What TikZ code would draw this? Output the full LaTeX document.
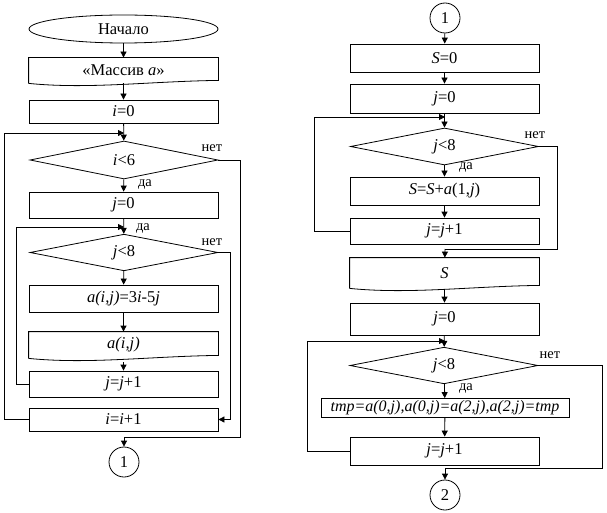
\documentclass[tikz,border=0pt]{standalone}
\usepackage{fontspec}
\setmainfont{Liberation Serif}
\usetikzlibrary{shapes.geometric,arrows.meta,calc}
\begin{document}
\begin{tikzpicture}[x=1pt,y=-1pt,line width=0.8pt,
  base/.style={font=\fontsize{16.5}{18}\selectfont, inner sep=0pt},
  proc/.style={base, draw, rectangle, minimum width=189pt},
  dec/.style={base, draw, diamond, minimum width=188pt},
  docnode/.style={base, minimum width=189pt},
  term/.style={base, draw, ellipse, minimum width=189pt, minimum height=28pt},
  conn/.style={base, draw, circle, minimum size=30pt},
  arr/.style={-{Triangle[length=6pt,width=6pt]}},
  lab/.style={font=\fontsize{14.5}{16}\selectfont, inner sep=0pt}]
\useasboundingbox (0,0) rectangle (607,513);
\newcommand\mydoc[1]{\draw ($(#1.south west)$) -- (#1.north west) -- (#1.north east) -- ($(#1.south east)+(0,-3)$)
  .. controls ($(#1.south east)+(-70,-2)$) and ($(#1.south west)+(60,6)$) .. (#1.south west);}
% ---------- left column ----------
\node[term] (start) at (123.5,29) {Начало};
\node[docnode, minimum height=25pt] (inA) at (123.5,70.5) {«Массив \textit{a}»};
\mydoc{inA}
\node[proc, minimum height=23pt] (i0) at (123.5,111.5) {\textit{i}=0};
\node[dec, minimum height=38pt] (d1) at (124,160) {\textit{i}<6};
\node[proc, minimum height=26pt] (j0) at (123.5,205) {\textit{j}=0};
\node[dec, minimum height=35pt] (d2) at (124,252.5) {\textit{j}<8};
\node[proc, minimum height=27pt] (calc) at (123.5,298.5) {\textit{a(i,j)}=3\textit{i}-5\textit{j}};
\node[docnode, minimum height=26pt] (out) at (123.5,345) {\textit{a(i,j)}};
\mydoc{out}
\node[proc, minimum height=26pt] (jinc) at (123.5,384) {\textit{j}=\textit{j}+1};
\node[proc, minimum height=23pt] (iinc) at (123.5,419.5) {\textit{i}=\textit{i}+1};
\node[conn] (c1) at (124,462) {1};
\coordinate (lp1) at (124,133);
\coordinate (lp2) at (124,227);
\node[lab] (n1) at (212,148) {нет};
\node[lab] (y1) at (145,184) {да};
\node[lab] (y2) at (143,228) {да};
\node[lab] (n2) at (212,242) {нет};
\draw[arr] (start) -- (inA);
\draw[arr] (inA.south) -- (i0);
\draw[arr] (i0) -- (d1);
\draw[arr] (d1) -- (j0);
\draw[arr] (j0) -- (d2);
\draw[arr] (d2) -- (calc);
\draw[arr] (calc) -- (out);
\draw[arr] ($(out.south)+(0,4)$) -- (jinc);
\draw[arr] (jinc.west) -- ++(-12,0) |- (lp2);
\draw[arr] (iinc.west) -- ++(-24,0) |- (lp1);
\draw[arr] (d2.east) -- ++(12,0) |- (iinc.east);
\draw (d1.east) -- ++(22,0) |- (124,437) coordinate (t1);
\draw[arr] (t1) -- (c1);
% ---------- right column ----------
\node[conn] (c1b) at (445,18) {1};
\node[proc, minimum height=28pt] (S0) at (444.5,58) {\textit{S}=0};
\node[proc, minimum height=29pt] (j0b) at (444.5,98.5) {\textit{j}=0};
\node[dec, minimum height=37pt] (d3) at (444.5,146.5) {\textit{j}<8};
\node[proc, minimum height=28pt] (sum) at (444.5,191) {\textit{S}=\textit{S}+\textit{a}(1,\textit{j})};
\node[proc, minimum height=26pt] (jinc2) at (444.5,231) {\textit{j}=\textit{j}+1};
\node[docnode, minimum height=30pt] (outS) at (444.5,273) {\textit{S}};
\mydoc{outS}
\node[proc, minimum height=32pt] (j0c) at (444.5,319) {\textit{j}=0};
\node[dec, minimum height=35pt] (d4) at (444,365.5) {\textit{j}<8};
\node[proc, minimum height=19pt, minimum width=248pt, font=\fontsize{16}{17}\selectfont] (swap) at (445,408) {\textit{tmp=a(0,j),a(0,j)=a(2,j),a(2,j)=tmp}};
\node[proc, minimum height=28pt] (jinc3) at (444.5,451) {\textit{j}=\textit{j}+1};
\node[conn] (c2) at (445,495) {2};
\coordinate (lp3) at (445,117);
\coordinate (lp4) at (445,341);
\node[lab] (n3) at (535,135) {нет};
\node[lab] (y3) at (466,168) {да};
\node[lab] (n4) at (550,355) {нет};
\node[lab] (y4) at (466,388) {да};
\draw[arr] (c1b) -- (S0);
\draw[arr] (S0) -- (j0b);
\draw[arr] (j0b) -- (d3);
\draw[arr] (d3) -- (sum);
\draw[arr] (sum) -- (jinc2);
\draw[arr] (jinc2.west) -- ++(-35,0) |- (lp3);
\draw (d3.east) -- ++(18,0) |- (445,249) coordinate (t3);
\draw[arr] (t3) -- (outS);
\draw[arr] ($(outS.south)+(0,1)$) -- (j0c);
\draw[arr] (j0c) -- (d4);
\draw[arr] (d4) -- (swap);
\draw[arr] (swap) -- (jinc3);
\draw[arr] (jinc3.west) -- ++(-42,0) |- (lp4);
\draw (d4.east) -- ++(64,0) |- (445,468) coordinate (t4);
\draw[arr] (t4) -- (c2);
\end{tikzpicture}
\end{document}
